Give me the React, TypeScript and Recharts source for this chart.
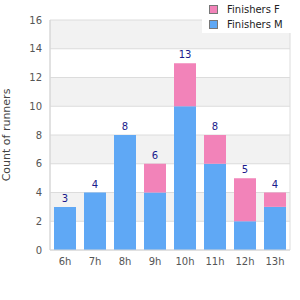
import { BarChart, Bar, XAxis, YAxis, CartesianGrid, LabelList } from 'recharts';

const hours = ['6h', '7h', '8h', '9h', '10h', '11h', '12h', '13h'];
const finishersM = [3, 4, 8, 4, 10, 6, 2, 3];
const finishersF = [0, 0, 0, 2, 3, 2, 3, 1];
const yTicks = [0, 2, 4, 6, 8, 10, 12, 14, 16];

const FONT = '"DejaVu Sans", sans-serif';
const BLUE = '#5fa8f5';
const PINK = '#f283b9';

const data = hours.map((h, i) => ({
  hour: h,
  m: finishersM[i],
  f: finishersF[i],
  total: finishersM[i] + finishersF[i],
}));

// total label sits above the whole stack; the pink part is scaled from the blue bar's height
const TotalLabel = ({ x, y, width, height, index }: any) => {
  const m = finishersM[index];
  const f = finishersF[index];
  const fHeight = m > 0 ? (height * f) / m : 0;
  return (
    <text
      x={x + width / 2}
      y={y - fHeight - 5}
      textAnchor="middle"
      fontSize={10}
      fill="#1a1a8c"
      fontFamily={FONT}
    >
      {m + f}
    </text>
  );
};

function LegendBox() {
  const items = [
    { label: 'Finishers F', color: PINK },
    { label: 'Finishers M', color: BLUE },
  ];
  return (
    <div
      style={{
        position: 'absolute',
        left: 202,
        top: 0,
        width: 98,
        height: 33,
        background: '#fff',
        fontFamily: FONT,
        fontSize: 10,
        color: '#222',
      }}
    >
      {items.map((it, i) => (
        <div
          key={it.label}
          style={{ position: 'absolute', left: 7, top: 2 + i * 15, display: 'flex', alignItems: 'center', height: 14 }}
        >
          <span
            style={{
              width: 7,
              height: 7,
              background: it.color,
              border: '1px solid #777',
              display: 'inline-block',
              marginRight: 9,
            }}
          />
          <span>{it.label}</span>
        </div>
      ))}
    </div>
  );
}

export default function App() {
  return (
    <div style={{ position: 'absolute', left: 0, top: 0, width: 300, height: 300, background: '#fff' }}>
      <BarChart
        width={300}
        height={300}
        data={data}
        margin={{ top: 20, right: 10, left: 0, bottom: 20 }}
        barSize={22}
      >
        <CartesianGrid
          stroke="#dcdcdc"
          horizontalFill={['#f2f2f2', '#ffffff']}
          verticalCoordinatesGenerator={({ offset }: any) => [offset.left, offset.left + offset.width]}
        />
        <XAxis
          dataKey="hour"
          tickLine={false}
          axisLine={{ stroke: '#d6d6d6' }}
          tick={{ fontSize: 10, fill: '#555', fontFamily: FONT }}
        />
        <YAxis
          width={50}
          domain={[0, 16]}
          ticks={yTicks}
          tickLine={false}
          axisLine={{ stroke: '#d6d6d6' }}
          tick={{ fontSize: 10, fill: '#555', fontFamily: FONT }}
          label={{
            content: ({ viewBox }: any) => {
              const cx = 6;
              const cy = viewBox.y + viewBox.height / 2;
              return (
                <text
                  x={cx}
                  y={cy}
                  dy="0.35em"
                  transform={`rotate(-90, ${cx}, ${cy})`}
                  textAnchor="middle"
                  fontSize={11}
                  fill="#444"
                  fontFamily={FONT}
                >
                  Count of runners
                </text>
              );
            },
          }}
        />
        <Bar dataKey="m" stackId="a" fill={BLUE} isAnimationActive={false}>
          <LabelList dataKey="total" content={TotalLabel} />
        </Bar>
        <Bar dataKey="f" stackId="a" fill={PINK} isAnimationActive={false} />
      </BarChart>
      <LegendBox />
    </div>
  );
}
